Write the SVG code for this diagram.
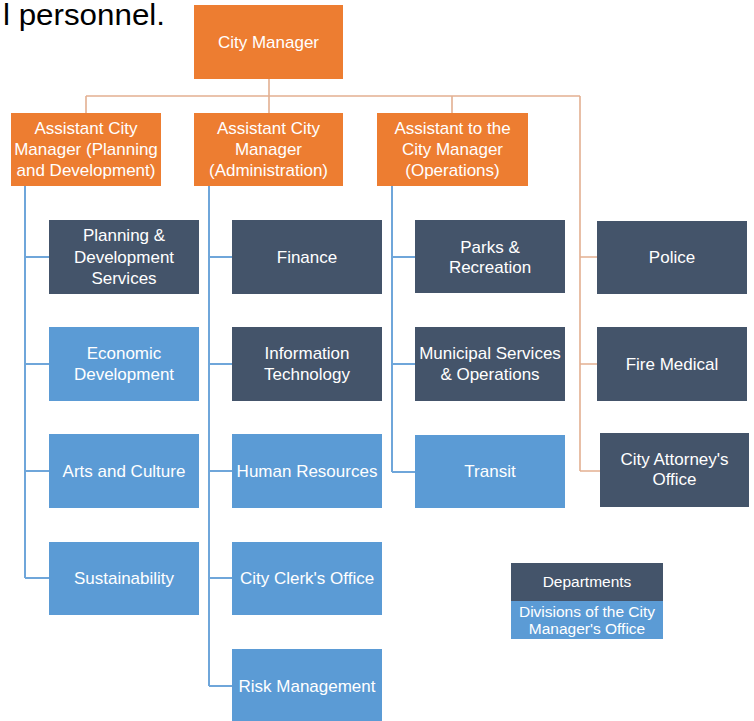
<svg xmlns="http://www.w3.org/2000/svg" width="754" height="721" viewBox="0 0 754 721">
<style>
.o{fill:#ed7d31}
.d{fill:#44546a}
.b{fill:#5b9bd5}
.t{font-family:"Liberation Sans",Arial,sans-serif;font-size:17px;fill:#ffffff;text-anchor:middle}
.l{font-family:"Liberation Sans",Arial,sans-serif;font-size:15.5px;fill:#ffffff;text-anchor:middle}
.cb{stroke:#6fa6da;stroke-width:2;fill:none}
.co{stroke:#e3b091;stroke-width:1.6;fill:none}
</style>
<rect width="754" height="721" fill="#ffffff"/>
<text x="3" y="25" font-family="Liberation Sans,Arial,sans-serif" font-size="29" fill="#000000" textLength="162" lengthAdjust="spacingAndGlyphs">l personnel.</text>
<g id="connectors">
<path class="co" d="M86 96H580M269 79V113M86 96V113M452 96V113M580 96V471M580 257H597M580 364H597M580 471H600"/>
<path class="cb" d="M25 186V578M25 257H49M25 364H49M25 471H49M25 578H49"/>
<path class="cb" d="M209 186V686M209 257H232M209 364H232M209 471H232M209 578H232M209 686H232"/>
<path class="cb" d="M392 186V472M392 257H415M392 364H415M392 472H415"/>
</g>
<g id="city-manager"><rect class="o" x="194" y="5" width="149" height="74"/><text class="t" x="268.5" y="48">City Manager</text></g>
<g id="acm-planning"><rect class="o" x="11" y="113" width="150" height="73"/><text class="t" x="86" y="134">Assistant City</text><text class="t" x="86" y="155">Manager (Planning</text><text class="t" x="86" y="176">and Development)</text></g>
<g id="acm-admin"><rect class="o" x="194" y="113" width="149" height="73"/><text class="t" x="268.5" y="134">Assistant City</text><text class="t" x="268.5" y="155">Manager</text><text class="t" x="268.5" y="176">(Administration)</text></g>
<g id="atcm-ops"><rect class="o" x="377" y="113" width="151" height="73"/><text class="t" x="452.5" y="134">Assistant to the</text><text class="t" x="452.5" y="155">City Manager</text><text class="t" x="452.5" y="176">(Operations)</text></g>

<g id="planning-dev-services"><rect class="d" x="49" y="220" width="150" height="74"/><text class="t" x="124" y="241">Planning &amp;</text><text class="t" x="124" y="263">Development</text><text class="t" x="124" y="284">Services</text></g>
<g id="economic-development"><rect class="b" x="49" y="327" width="150" height="74"/><text class="t" x="124" y="359">Economic</text><text class="t" x="124" y="380">Development</text></g>
<g id="arts-culture"><rect class="b" x="49" y="434" width="150" height="74"/><text class="t" x="124" y="477">Arts and Culture</text></g>
<g id="sustainability"><rect class="b" x="49" y="542" width="150" height="73"/><text class="t" x="124" y="584">Sustainability</text></g>

<g id="finance"><rect class="d" x="232" y="220" width="150" height="74"/><text class="t" x="307" y="263">Finance</text></g>
<g id="information-technology"><rect class="d" x="232" y="327" width="150" height="74"/><text class="t" x="307" y="359">Information</text><text class="t" x="307" y="380">Technology</text></g>
<g id="human-resources"><rect class="b" x="232" y="434" width="150" height="74"/><text class="t" x="307" y="477">Human Resources</text></g>
<g id="city-clerk"><rect class="b" x="232" y="542" width="150" height="73"/><text class="t" x="307" y="584">City Clerk's Office</text></g>
<g id="risk-management"><rect class="b" x="232" y="649" width="150" height="72"/><text class="t" x="307" y="692">Risk Management</text></g>

<g id="parks-recreation"><rect class="d" x="415" y="220" width="150" height="73"/><text class="t" x="490" y="253">Parks &amp;</text><text class="t" x="490" y="273">Recreation</text></g>
<g id="municipal-services"><rect class="d" x="415" y="327" width="150" height="74"/><text class="t" x="490" y="359">Municipal Services</text><text class="t" x="490" y="380">&amp; Operations</text></g>
<g id="transit"><rect class="b" x="415" y="435" width="150" height="73"/><text class="t" x="490" y="477">Transit</text></g>

<g id="police"><rect class="d" x="597" y="221" width="150" height="73"/><text class="t" x="672" y="263">Police</text></g>
<g id="fire-medical"><rect class="d" x="597" y="327" width="150" height="74"/><text class="t" x="672" y="370">Fire Medical</text></g>
<g id="city-attorney"><rect class="d" x="600" y="433" width="149" height="74"/><text class="t" x="674.5" y="465">City Attorney's</text><text class="t" x="674.5" y="485">Office</text></g>

<g id="legend">
<rect class="d" x="511" y="563" width="152" height="38"/><text class="l" x="587" y="587">Departments</text>
<rect class="b" x="511" y="601" width="152" height="38"/><text class="l" x="587" y="617">Divisions of the City</text><text class="l" x="587" y="634">Manager's Office</text>
</g>
</svg>
